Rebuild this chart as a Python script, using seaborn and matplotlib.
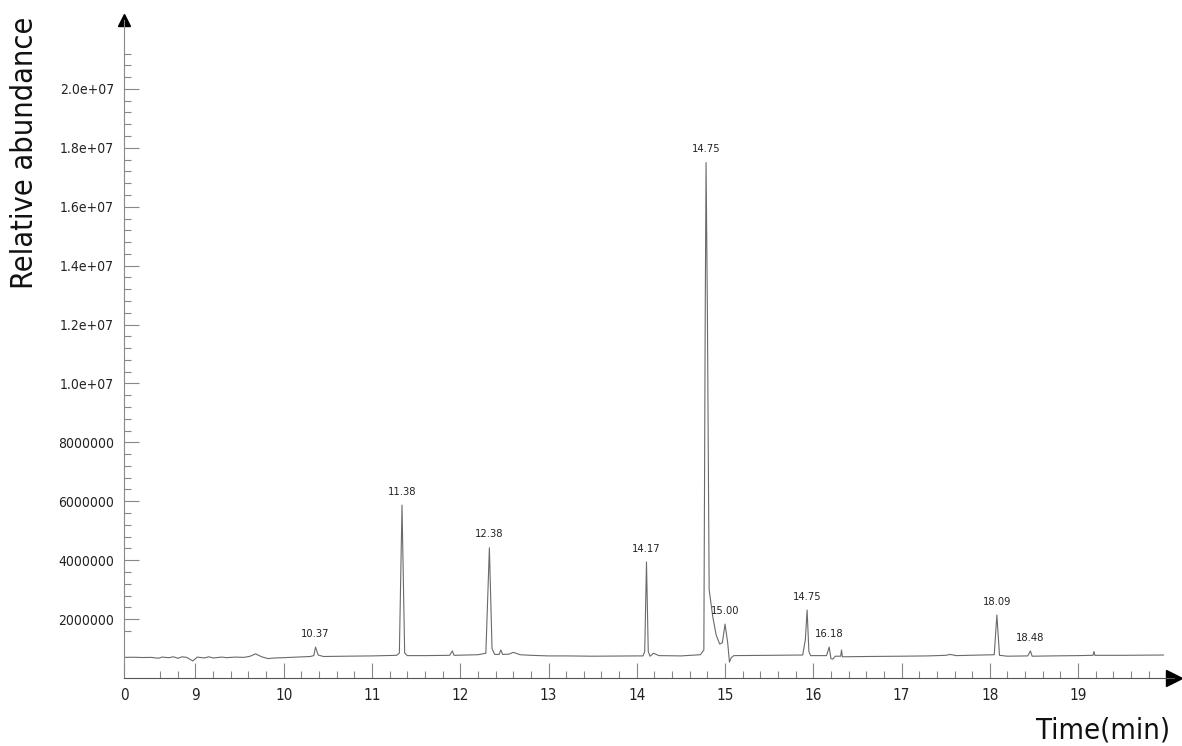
import numpy as np
import pandas as pd
import seaborn as sns
import matplotlib.pyplot as plt

# chromatogram trace (time in min, abundance)
time = [8.19, 8.30, 8.40, 8.50, 8.58, 8.62, 8.70, 8.75, 8.80, 8.85, 8.90, 8.97,
        9.02, 9.10, 9.15, 9.20, 9.30, 9.35, 9.45, 9.55, 9.62, 9.68, 9.75, 9.82,
        9.90, 10.00, 10.30, 10.34, 10.36, 10.39, 10.45, 10.70, 11.00, 11.28,
        11.31, 11.34, 11.37, 11.40, 11.60, 11.88, 11.91, 11.93, 12.20, 12.29,
        12.33, 12.36, 12.39, 12.44, 12.46, 12.48, 12.55, 12.60, 12.68, 12.80,
        13.00, 13.20, 13.50, 14.00, 14.07, 14.09, 14.11, 14.13, 14.15, 14.19,
        14.25, 14.50, 14.72, 14.76, 14.775, 14.785, 14.80, 14.82, 14.86,
        14.90, 14.94, 14.97, 15.00, 15.03, 15.05, 15.07, 15.10, 15.50, 15.88,
        15.91, 15.93, 15.95, 15.97, 16.15, 16.18, 16.20, 16.22, 16.25, 16.31,
        16.32, 16.33, 16.60, 17.00, 17.30, 17.50, 17.55, 17.62, 17.90, 18.05,
        18.08, 18.11, 18.20, 18.43, 18.46, 18.48, 18.70, 19.00, 19.17, 19.18,
        19.19, 19.50, 19.97]
abundance = [7.0e5, 7.05e5, 6.95e5, 7.0e5, 6.7e5, 7.1e5, 6.9e5, 7.2e5, 6.7e5, 7.2e5, 7.0e5, 5.8e5,
             7.1e5, 6.8e5, 7.2e5, 6.8e5, 7.1e5, 6.9e5, 7.1e5, 7.0e5, 7.4e5, 8.2e5, 7.2e5, 6.6e5,
             6.8e5, 6.9e5, 7.3e5, 7.6e5, 1.05e6, 7.8e5, 7.3e5, 7.4e5, 7.5e5, 7.7e5,
             8.5e5, 5.87e6, 8.5e5, 7.6e5, 7.6e5, 7.7e5, 9.2e5, 7.7e5, 7.9e5, 8.4e5,
             4.42e6, 1.0e6, 8.0e5, 8.0e5, 9.5e5, 8.0e5, 8.1e5, 8.7e5, 7.9e5, 7.7e5,
             7.5e5, 7.5e5, 7.4e5, 7.5e5, 7.5e5, 9.0e5, 3.94e6, 9.0e5, 7.4e5, 8.4e5,
             7.6e5, 7.5e5, 7.9e5, 9.5e5, 1.2e7, 1.75e7, 1.25e7, 3.0e6, 2.1e6,
             1.45e6, 1.15e6, 1.2e6, 1.83e6, 1.2e6, 5.4e5, 6.9e5, 7.6e5, 7.7e5, 7.8e5,
             1.3e6, 2.31e6, 9.0e5, 7.6e5, 7.6e5, 1.05e6, 6.6e5, 6.4e5, 7.4e5, 7.4e5,
             9.5e5, 7.2e5, 7.3e5, 7.4e5, 7.5e5, 7.7e5, 8.0e5, 7.6e5, 7.8e5, 7.9e5,
             2.14e6, 7.7e5, 7.4e5, 7.5e5, 9.2e5, 7.4e5, 7.5e5, 7.6e5, 7.7e5, 9.0e5,
             7.7e5, 7.7e5, 7.8e5]

# labelled peaks: apex time, apex abundance, label text
peak_time = [10.36, 11.34, 12.33, 14.11, 14.785, 15.00, 15.93, 16.18, 18.08, 18.46]
peak_height = [1.05e6, 5.87e6, 4.42e6, 3.94e6, 1.75e7, 1.83e6, 2.31e6, 1.05e6, 2.14e6, 9.2e5]
peak_label = ['10.37', '11.38', '12.38', '14.17', '14.75', '15.00', '14.75', '16.18', '18.09', '18.48']

x_major = [8.19, 9, 10, 11, 12, 13, 14, 15, 16, 17, 18, 19]
x_major_labels = ['0', '9', '10', '11', '12', '13', '14', '15', '16', '17', '18', '19']
y_major = [2e6, 4e6, 6e6, 8e6, 1.0e7, 1.2e7, 1.4e7, 1.6e7, 1.8e7, 2.0e7]
y_major_labels = ['2000000', '4000000', '6000000', '8000000', '1.0e+07',
                  '1.2e+07', '1.4e+07', '1.6e+07', '1.8e+07', '2.0e+07']

df = pd.DataFrame({'time': time, 'abundance': abundance})

sns.set_style('ticks')
plt.rcParams['font.family'] = ['DejaVu Sans']
plt.rcParams['font.stretch'] = 'condensed'

fig = plt.figure(figsize=(11.82, 7.46), dpi=100)
W, H = 1182, 746
ax = fig.add_axes([124 / W, (H - 678) / H, (1174 - 124) / W, (678 - 20) / H])

sns.lineplot(data=df, x='time', y='abundance', ax=ax, color='#6a6a6a',
             linewidth=0.8, estimator=None, sort=False)

ax.set_xlim(8.19, 20.087)
ax.set_ylim(0, 2.234e7)

for t, h, lab in zip(peak_time, peak_height, peak_label):
    ax.annotate(lab, xy=(t, h), xytext=(0, 6), textcoords='offset points',
                ha='center', va='bottom', fontsize=8, color='#222222')

ax.set_xticks(x_major)
ax.set_xticklabels(x_major_labels)
x_minor = [v / 10 for v in range(86, 200, 2) if v % 10 != 0]
ax.set_xticks(x_minor, minor=True)
ax.set_yticks(y_major)
ax.set_yticklabels(y_major_labels)
y_minor = [v * 4e5 for v in range(4, 54) if v % 5 != 0]
ax.set_yticks(y_minor, minor=True)

ax.tick_params(axis='both', which='major', direction='in', length=11, width=0.8,
               color='#888888', labelcolor='#222222', labelsize=10, pad=7)
ax.tick_params(axis='both', which='minor', direction='in', length=5, width=0.8,
               color='#888888')
ax.tick_params(axis='x', which='major', labelsize=11)

for s in ['top', 'right']:
    ax.spines[s].set_visible(False)
ax.spines['left'].set_color('#888888')
ax.spines['bottom'].set_color('#555555')
ax.spines['left'].set_linewidth(0.8)
ax.spines['bottom'].set_linewidth(0.8)

# arrow heads on the axes
ax.plot(1, 0, '>', color='black', markersize=11, transform=ax.transAxes, clip_on=False)
ax.plot(0, 1, '^', color='black', markersize=8, transform=ax.transAxes, clip_on=False)

ax.set_xlabel('')
ax.set_ylabel('')
fig.text(25 / W, 1 - 153 / H, 'Relative abundance', rotation=90, ha='center',
         va='center', fontsize=22, color='#111111')
fig.text(1170 / W, 1 - 730 / H, 'Time(min)', ha='right', va='center',
         fontsize=21, color='#111111')

fig.savefig('out.png', dpi=100)
